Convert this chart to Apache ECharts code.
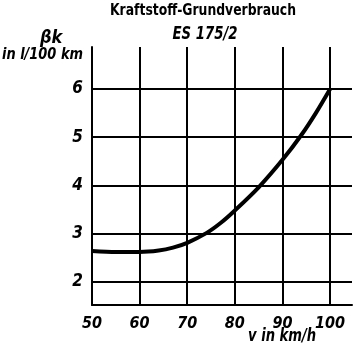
<!DOCTYPE html>
<html><head><meta charset="utf-8">
<script src="https://cdn.jsdelivr.net/npm/echarts@6/dist/echarts.min.js"></script>
<style>html,body{margin:0;padding:0;background:#fff}#c{width:360px;height:353px}</style>
</head><body><div id="c"></div>
<script>
const speeds = [50, 55, 60, 64, 67, 70, 74, 77, 80, 85, 90, 94, 97, 100];
const consumption = [2.64, 2.62, 2.62, 2.65, 2.71, 2.81, 3.01, 3.22, 3.48, 3.96, 4.53, 5.05, 5.5, 6.0];
const xTicks = [50, 60, 70, 80, 90, 100];
const yTicks = [2, 3, 4, 5, 6];
const titleText = 'Kraftstoff-Grundverbrauch';
const subtitleText = 'ES 175/2';
const yName1 = 'βk';
const yName2 = 'in l/100 km';
const xName = 'v in km/h';

const FONT = '"DejaVu Sans Condensed", "DejaVu Sans", sans-serif';
const chart = echarts.init(document.getElementById('c'), null, {renderer: 'canvas'});
const gridLines = [];
xTicks.forEach(v => gridLines.push({xAxis: v}));
yTicks.forEach(v => gridLines.push({yAxis: v}));

function txt(text, x, y, font, sx, align) {
  return {type: 'text', x: x, y: y, scaleX: sx, z: 10,
    style: {text: text, font: font, fill: '#000', textAlign: align || 'left', textVerticalAlign: 'top'}};
}

chart.setOption({
  animation: false,
  backgroundColor: '#fff',
  grid: {left: 92, top: 47, width: 260, height: 258, containLabel: false},
  xAxis: {
    type: 'value', min: 50, max: 104.6,
    axisLine: {show: true, onZero: false, lineStyle: {color: '#000', width: 2}},
    axisTick: {show: false}, splitLine: {show: false},
    axisLabel: {
      customValues: xTicks,
      margin: 11, color: '#000', fontFamily: FONT, fontWeight: 'bold', fontStyle: 'italic', fontSize: 16
    }
  },
  yAxis: {
    type: 'value', min: 1.52, max: 6.87,
    axisLine: {show: true, onZero: false, lineStyle: {color: '#000', width: 2}},
    axisTick: {show: false}, splitLine: {show: false},
    axisLabel: {
      customValues: yTicks,
      margin: 9, color: '#000', fontFamily: FONT, fontWeight: 'bold', fontStyle: 'italic', fontSize: 17
    }
  },
  graphic: [
    txt(titleText, 203, 3, 'bold 16px ' + FONT, 0.86, 'center'),
    txt(subtitleText, 205, 25, 'italic bold 18px ' + FONT, 0.82, 'center'),
    txt(yName1, 40, 29, 'italic bold 18px ' + FONT, 1, 'left'),
    txt(yName2, 2, 47, 'italic bold 16px ' + FONT, 0.9, 'left'),
    txt(xName, 248, 328, 'italic bold 17px ' + FONT, 0.86, 'left')
  ],
  series: [{
    type: 'line',
    data: speeds.map((s, i) => [s, consumption[i]]),
    smooth: 0.3, showSymbol: false,
    lineStyle: {color: '#000', width: 4},
    z: 3,
    markLine: {
      silent: true, symbol: 'none', label: {show: false},
      lineStyle: {color: '#000', width: 2, type: 'solid'},
      data: gridLines
    }
  }]
});
</script></body></html>
